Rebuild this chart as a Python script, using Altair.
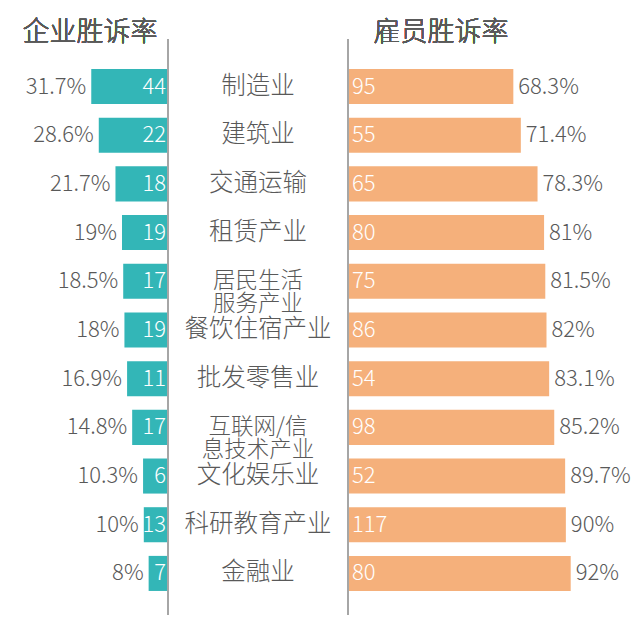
import altair as alt
import pandas as pd

# Industry categories, top to bottom
categories = [
    "制造业", "建筑业", "交通运输", "租赁产业", "居民生活\n服务产业",
    "餐饮住宿产业", "批发零售业", "互联网/信\n息技术产业", "文化娱乐业",
    "科研教育产业", "金融业",
]
# Employer side: win rate (%) and number of won cases
employer_rate = [31.7, 28.6, 21.7, 19, 18.5, 18, 16.9, 14.8, 10.3, 10, 8]
employer_wins = [44, 22, 18, 19, 17, 19, 11, 17, 6, 13, 7]
# Employee side: win rate (%) and number of won cases
employee_rate = [68.3, 71.4, 78.3, 81, 81.5, 82, 83.1, 85.2, 89.7, 90, 92]
employee_wins = [95, 55, 65, 80, 75, 86, 54, 98, 52, 117, 80]

TEAL = "#33b6b7"
ORANGE = "#f5b07b"
GREY = "#595959"
FONT = "Noto Sans CJK SC"
W = 300

df = pd.DataFrame({
    "cat": categories,
    "er": employer_rate,
    "ew": employer_wins,
    "yr": employee_rate,
    "yw": employee_wins,
})

H = 576
y_enc = alt.Y(
    "cat:N", sort=categories, axis=None,
    scale=alt.Scale(type="band", paddingInner=0.28, paddingOuter=0.555, align=0.555),
)

base = alt.Chart(df).transform_calculate(
    zero="0", lpct="datum.er + '%'", rpct="datum.yr + '%'",
    two="indexof(datum.cat, '\\n') >= 0",
)

# ---- left panel: employer win rate, bars growing leftwards
lx = alt.Scale(domain=[0, 69.4], reverse=True, nice=False, zero=True)
left_bars = base.mark_bar(color=TEAL).encode(
    x=alt.X("er:Q", scale=lx, axis=None), y=y_enc
)
left_pct = base.mark_text(
    align="right", baseline="middle", dx=-5, fontSize=22, font=FONT,
    fontWeight=W, color=GREY,
).encode(x=alt.X("er:Q", scale=lx, axis=None), y=y_enc, text="lpct:N")
left_cnt = base.mark_text(
    align="right", baseline="middle", dx=-2, fontSize=22, font=FONT,
    fontWeight=W, color="white",
).encode(x=alt.X("zero:Q", scale=lx, axis=None), y=y_enc, text="ew:Q")
left_line = base.mark_rule(color="#a6a6a6", strokeWidth=1.5).encode(
    x=alt.X("zero:Q", scale=lx, axis=None)
)
left_title = base.mark_text(
    align="center", baseline="middle", fontSize=27, font=FONT, fontWeight=W,
    color=GREY, text="企业胜诉率",
).encode(x=alt.value(90), y=alt.value(-6))
left = alt.layer(left_bars, left_line, left_pct, left_cnt, left_title).properties(
    width=168, height=H
)

# ---- middle panel: category names
middle = base.mark_text(
    align="center", baseline="middle", font=FONT, fontWeight=W, color=GREY,
    lineBreak="\n", lineHeight=23,
).encode(
    x=alt.value(90), y=y_enc, text="cat:N",
    size=alt.condition("datum.two", alt.value(22.5), alt.value(24.5)),
).properties(width=180, height=H)

# ---- right panel: employee win rate
rx = alt.Scale(domain=[0, 119.8], nice=False, zero=True)
right_bars = base.mark_bar(color=ORANGE).encode(
    x=alt.X("yr:Q", scale=rx, axis=None), y=y_enc
)
right_pct = base.mark_text(
    align="left", baseline="middle", dx=5, fontSize=22, font=FONT,
    fontWeight=W, color=GREY,
).encode(x=alt.X("yr:Q", scale=rx, axis=None), y=y_enc, text="rpct:N")
right_cnt = base.mark_text(
    align="left", baseline="middle", dx=4, fontSize=22, font=FONT,
    fontWeight=W, color="white",
).encode(x=alt.X("zero:Q", scale=rx, axis=None), y=y_enc, text="yw:Q")
right_line = base.mark_rule(color="#a6a6a6", strokeWidth=1.5).encode(
    x=alt.X("zero:Q", scale=rx, axis=None)
)
right_title = base.mark_text(
    align="center", baseline="middle", fontSize=27, font=FONT, fontWeight=W,
    color=GREY, text="雇员胜诉率",
).encode(x=alt.value(93), y=alt.value(-6))
right = alt.layer(right_bars, right_line, right_pct, right_cnt, right_title).properties(
    width=290, height=H
)

chart = alt.hconcat(left, middle, right, spacing=0, bounds="flush").resolve_scale(
    x="independent"
).properties(
    padding={"left": 0, "top": 19, "right": 0, "bottom": 0},
    background="white",
).configure_view(stroke=None)

chart.save("out.html", embed_options={"renderer": "svg", "actions": False})
